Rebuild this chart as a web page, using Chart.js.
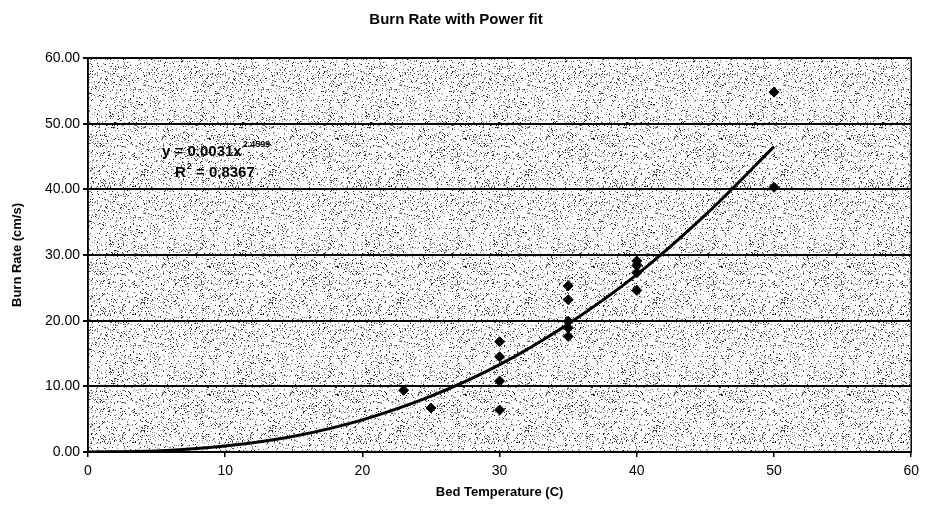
<!DOCTYPE html>
<html>
<head>
<meta charset="utf-8">
<script src="https://cdn.jsdelivr.net/npm/chart.js@4.4.1/dist/chart.umd.min.js"></script>
<style>
  html, body { margin: 0; padding: 0; background: #fff; }
  #wrap { width: 925px; height: 514px; }
</style>
</head>
<body>
<div id="wrap"><canvas id="burnChart" width="925" height="514"></canvas></div>
<script>
const bedTemp  = [23, 25, 30, 30, 30, 30, 35, 35, 35, 35, 35, 40, 40, 40, 40, 50, 50];
const burnRate = [9.4, 6.7, 16.8, 14.5, 10.8, 6.4, 25.3, 23.2, 19.9, 18.9, 17.6, 29.1, 28.4, 27.3, 24.6, 54.8, 40.3];

// power trendline as drawn
const fitTemp = [0, 5, 10, 15, 20, 25, 30, 35, 40, 45, 50];
const fitRate = [0, 0.16, 0.9, 2.4, 4.9, 8.5, 13.3, 19.5, 27.0, 36.1, 46.5];

const yTicks = [0, 10, 20, 30, 40, 50, 60];
const xTicks = [0, 10, 20, 30, 40, 50, 60];

Chart.defaults.font.family = '"Liberation Sans", Arial, sans-serif';
Chart.defaults.color = '#000';

// stippled background like the scanned original
function makeStipple(ctx) {
    const c = document.createElement('canvas');
    c.width = 128; c.height = 128;
    const g = c.getContext('2d');
    g.fillStyle = '#fff';
    g.fillRect(0, 0, 128, 128);
    let s = 98765;
    for (let i = 0; i < 128 * 128; i++) {
        s = (s * 1103515245 + 12345) & 0x7fffffff;
        if ((s >> 8) % 100 < 14) {
            g.fillStyle = ((s >> 3) % 3 === 0) ? '#222' : '#888';
            g.fillRect(i % 128, Math.floor(i / 128), 1, 1);
        }
    }
    return ctx.createPattern(c, 'repeat');
}

const plotFrame = {
    id: 'plotFrame',
    beforeDraw(chart) {
        const { ctx, chartArea: a } = chart;
        ctx.save();
        ctx.fillStyle = makeStipple(ctx);
        ctx.fillRect(a.left, a.top, a.right - a.left, a.bottom - a.top);
        ctx.restore();
    },
    afterDraw(chart) {
        const { ctx, chartArea: a } = chart;
        ctx.save();
        ctx.strokeStyle = '#000';
        ctx.lineWidth = 1.5;
        ctx.strokeRect(a.left, a.top, a.right - a.left, a.bottom - a.top);

        // trendline equation
        const big = 'bold 15px "Liberation Sans", Arial, sans-serif';
        const small = 'bold 9px "Liberation Sans", Arial, sans-serif';
        ctx.fillStyle = '#000';
        ctx.textBaseline = 'alphabetic';
        ctx.font = big;
        const eq = 'y = 0.0031x';
        ctx.fillText(eq, 162, 156);
        const w1 = ctx.measureText(eq).width;
        ctx.font = small;
        ctx.fillText('2.4599', 162 + w1 + 1, 147);
        ctx.font = big;
        ctx.fillText('R', 175, 177);
        const w2 = ctx.measureText('R').width;
        ctx.font = small;
        ctx.fillText('2', 175 + w2 + 1, 169);
        ctx.font = big;
        ctx.fillText(' = 0.8367', 175 + w2 + 6, 177);
        ctx.restore();
    }
};

new Chart(document.getElementById('burnChart'), {
    type: 'scatter',
    data: {
        datasets: [
            {
                label: 'Burn rate',
                data: bedTemp.map((t, i) => ({ x: t, y: burnRate[i] })),
                pointStyle: 'rectRot',
                pointRadius: 5,
                backgroundColor: '#000',
                borderColor: '#000',
                order: 1
            },
            {
                label: 'Power fit',
                type: 'line',
                data: fitTemp.map((t, i) => ({ x: t, y: fitRate[i] })),
                borderColor: '#000',
                borderWidth: 3,
                pointRadius: 0,
                tension: 0.4,
                cubicInterpolationMode: 'monotone',
                fill: false,
                order: 2
            }
        ]
    },
    options: {
        responsive: false,
        animation: false,
        layout: { padding: { left: 0, right: 13, top: 0, bottom: 0 } },
        plugins: {
            legend: { display: false },
            tooltip: { enabled: false },
            title: {
                display: true,
                text: 'Burn Rate with Power fit',
                font: { size: 15, weight: 'bold' },
                padding: { top: 11, bottom: 29 }
            }
        },
        scales: {
            x: {
                type: 'linear',
                min: 0,
                max: 60,
                afterBuildTicks: s => { s.ticks = xTicks.map(v => ({ value: v })); },
                ticks: { font: { size: 14 }, padding: 6, maxRotation: 0 },
                grid: { drawOnChartArea: false, drawTicks: true, tickLength: 5, color: '#000', lineWidth: 1.5 },
                border: { color: '#000', width: 1.5 },
                title: {
                    display: true,
                    text: 'Bed Temperature (C)',
                    font: { size: 13, weight: 'bold' },
                    padding: { top: 4, bottom: 14 }
                },
                afterFit: s => { s.height = 62; }
            },
            y: {
                min: 0,
                max: 60,
                afterBuildTicks: s => { s.ticks = yTicks.map(v => ({ value: v })); },
                ticks: { font: { size: 14 }, padding: 3, callback: v => v.toFixed(2) },
                grid: { color: '#000', lineWidth: 2, tickLength: 5 },
                border: { color: '#000', width: 1.5 },
                title: {
                    display: true,
                    text: 'Burn Rate (cm/s)',
                    font: { size: 13, weight: 'bold' },
                    padding: { top: 10, bottom: 4 }
                },
                afterFit: s => { s.width = 88; }
            }
        }
    },
    plugins: [plotFrame]
});
</script>
</body>
</html>
